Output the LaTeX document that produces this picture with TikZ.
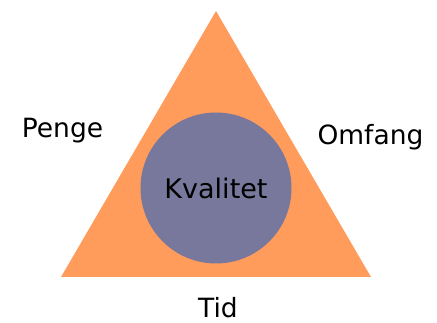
\documentclass[tikz,border=0pt]{standalone}
\usepackage{fontspec}
\setmainfont{DejaVu Sans}
\definecolor{triorange}{RGB}{255,156,92}
\definecolor{corepurple}{RGB}{120,120,156}
\begin{document}
\begin{tikzpicture}[x=1pt,y=-1pt,
  label text/.style={font=\fontsize{26.5}{30}\selectfont, text=black, inner sep=0pt, anchor=base},
  core/.style={circle, fill=corepurple, minimum size=151pt, inner sep=0pt,
               font=\fontsize{27}{30}\selectfont}]
  \useasboundingbox (0,0) rectangle (437,323);
  % triangle corners
  \coordinate (top) at (216,11);
  \coordinate (bl) at (61,277);
  \coordinate (br) at (371,277);
  \fill[triorange] (top) -- (bl) -- (br) -- cycle;
  % central circle
  \node[core] (kval) at (216,188) {Kvalitet};
  % side labels
  \node[label text] (penge) at (62.5,137.7) {Penge};
  \node[label text] (omfang) at (370.5,145) {Omfang};
  \node[label text] (tid) at (218,317.5) {Tid};
\end{tikzpicture}
\end{document}
